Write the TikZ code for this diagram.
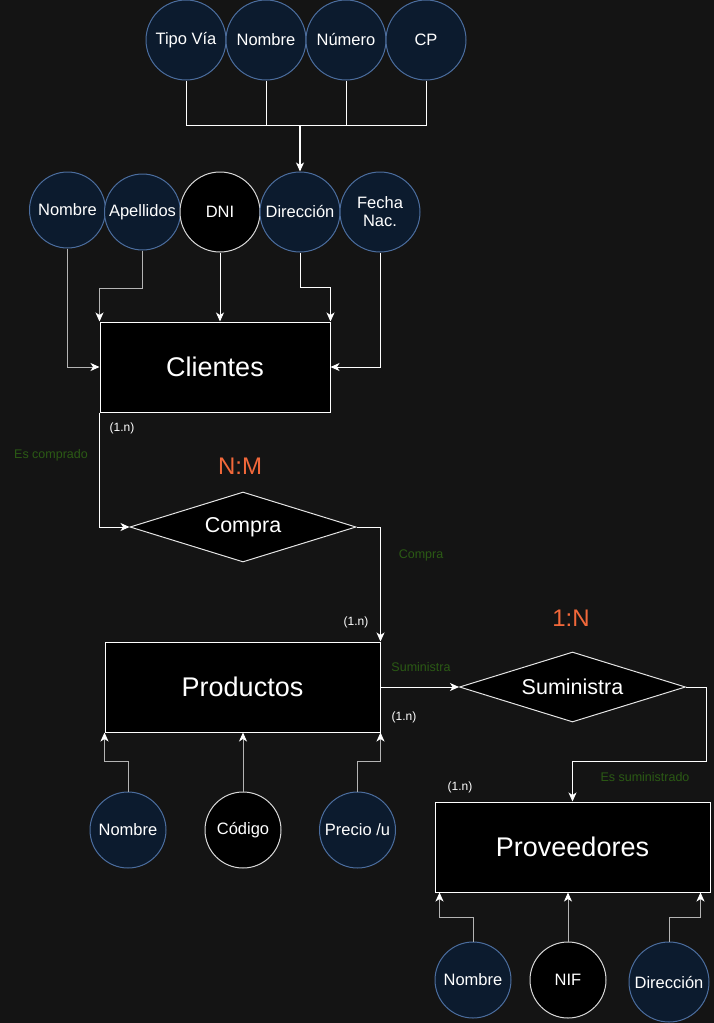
\documentclass[tikz,border=0pt]{standalone}
\usepackage{fontspec}
\setmainfont{Liberation Sans}
\usetikzlibrary{arrows.meta, positioning, shapes.geometric}
\definecolor{fondo}{HTML}{141414}
\definecolor{azul}{HTML}{0C1B2E}
\definecolor{borde}{HTML}{4B6D9E}
\definecolor{verde}{HTML}{2B5A14}
\definecolor{naranja}{HTML}{F2683A}
\definecolor{gris}{HTML}{B4B4B4}

\begin{document}
\begin{tikzpicture}[x=1pt, y=-1pt, line width=1pt,
  atributo/.style={circle, draw=borde, fill=azul, text=white, minimum size=76pt, inner sep=0pt, font=\fontsize{16.5}{18}\selectfont},
  clave/.style={atributo, draw=white!85!black, fill=black},
  entidad/.style={rectangle, draw=white, fill=black, text=white, minimum width=230pt, minimum height=90pt, font=\fontsize{27}{30}\selectfont},
  relacion/.style={diamond, draw=white!90!black, fill=black, text=white, aspect=3.2, minimum width=226pt, minimum height=70pt, inner sep=0pt, font=\fontsize{21.5}{24}\selectfont},
  flecha/.style={draw=white, -{Stealth[length=9pt, width=8pt, inset=2.5pt, color=white]}},
  flechagris/.style={flecha, draw=gris},
  card/.style={text=white, font=\fontsize{12}{14}\selectfont},
  rol/.style={text=verde, font=\fontsize{12.5}{14}\selectfont},
  tipo/.style={text=naranja, font=\fontsize{24}{26}\selectfont}]

	\fill[fondo] (0,0) rectangle (714,1023);
	\useasboundingbox (0,0) rectangle (714,1023);

	% atributos de la direccion
	\begin{scope}[every node/.style={atributo, minimum size=80pt}]
		\node (tipovia) at (186,40) {Tipo Vía};
		\node (nombredir) at (266,40) {Nombre};
		\node (numero) at (346,40) {Número};
		\node (cp) at (426,40) {CP};
	\end{scope}
	\coordinate (bus) at (300,125);

	% clientes
	\node[atributo] (nombrecli) at (67.5,210) {Nombre};
	\node[atributo] (apellidos) at (142.5,212) {Apellidos};
	\node[clave, minimum size=80pt] (dni) at (220,212) {DNI};
	\node[atributo, minimum size=80pt] (direccion) at (300,212) {Dirección};
	\node[atributo, minimum size=80pt, align=center] (fecha) at (380,212) {Fecha\\Nac.};
	\node[entidad] (clientes) at (215,367) {Clientes};

	% productos
	\node[relacion] (compra) at (243,527) {Compra};
	\node[tipo] (nm) at (240,466) {N:M};
	\node[entidad, minimum width=275pt] (productos) at (242.5,687) {Productos};
	\node[atributo] (nombreprod) at (128,830) {Nombre};
	\node[clave] (codigo) at (243,830) {Código};
	\node[atributo] (precio) at (357.5,830) {Precio /u};

	% proveedores
	\node[relacion] (suministra) at (572.5,687) {Suministra};
	\node[tipo] (unon) at (571,618) {1:N};
	\node[entidad, minimum width=275pt] (proveedores) at (572.5,847) {Proveedores};
	\node[atributo] (nombreprov) at (473,980) {Nombre};
	\node[clave] (nif) at (568,980) {NIF};
	\node[atributo, minimum size=80pt] (dirprov) at (669,982) {Dirección};

	% cardinalidades y roles
	\node[card] (c1) at (122,428) {(1.n)};
	\node[rol] (r1) at (51,455) {Es comprado};
	\node[rol] (r2) at (421,555) {Compra};
	\node[card] (c2) at (356,622) {(1.n)};
	\node[rol] (r3) at (421,667) {Suministra};
	\node[card] (c3) at (404,717) {(1.n)};
	\node[rol] (r4) at (645,777) {Es suministrado};
	\node[card] (c4) at (460,787) {(1.n)};

	\draw[white] (tipovia.south) |- (bus)
		(cp.south) |- (bus)
		(nombredir.south) -- (nombredir.south |- bus)
		(numero.south) -- (numero.south |- bus);
	\draw[flecha, line width=1.5pt] (bus) -- (direccion.north);

	\draw[flechagris] (nombrecli.south) |- (clientes.west);
	\draw[flechagris] (apellidos.south) -- ++(0,38) -| (clientes.north west);
	\draw[flecha] (dni.south) -- (dni.south |- clientes.north);
	\draw[flecha] (direccion.south) -- ++(0,35) -| (clientes.north east);
	\draw[flecha] (fecha.south) |- (clientes.east);

	\draw[flecha] (clientes.south west) |- (compra.west);
	\draw[flecha] (compra.east) -| (productos.north east);
	\draw[flecha] (productos.east) -- (suministra.west);
	\draw[flecha] (suministra.east) -- ++(20,0) -- ++(0,74) -| (proveedores.north);

	\draw[flechagris] (nombreprod.north) -- ++(0,-30) -| (productos.south west);
	\draw[flechagris] (codigo.north) -- (codigo.north |- productos.south);
	\draw[flechagris] (precio.north) -- ++(0,-30) -| (productos.south east);

	\draw[flechagris] (nombreprov.north) -- ++(0,-24) -| ([xshift=5pt]proveedores.south west);
	\draw[flechagris] (nif.north) -- (nif.north |- proveedores.south);
	\draw[flechagris] (dirprov.north) -- ++(0,-24) -| ([xshift=-10pt]proveedores.south east);
\end{tikzpicture}
\end{document}
